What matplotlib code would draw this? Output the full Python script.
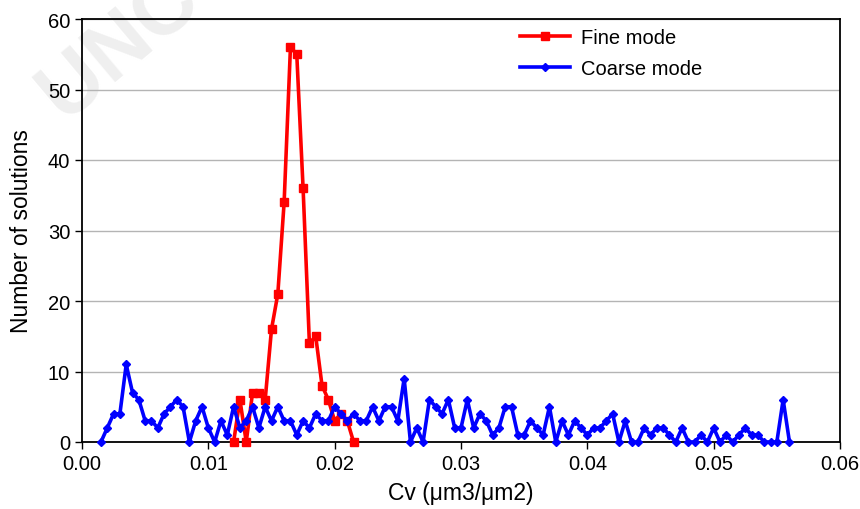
import numpy as np
import matplotlib
matplotlib.use("Agg")
import matplotlib.pyplot as plt

plt.rcParams['font.family'] = ['Liberation Sans', 'DejaVu Sans']

coarse_x = [0.0015, 0.0020, 0.0025, 0.0030, 0.0035, 0.0040, 0.0045, 0.0050, 0.0055, 0.0060,
            0.0065, 0.0070, 0.0075, 0.0080, 0.0085, 0.0090, 0.0095, 0.0100, 0.0105, 0.0110,
            0.0115, 0.0120, 0.0125, 0.0130, 0.0135, 0.0140, 0.0145, 0.0150, 0.0155, 0.0160,
            0.0165, 0.0170, 0.0175, 0.0180, 0.0185, 0.0190, 0.0195, 0.0200, 0.0205, 0.0210,
            0.0215, 0.0220, 0.0225, 0.0230, 0.0235, 0.0240, 0.0245, 0.0250, 0.0255, 0.0260,
            0.0265, 0.0270, 0.0275, 0.0280, 0.0285, 0.0290, 0.0295, 0.0300, 0.0305, 0.0310,
            0.0315, 0.0320, 0.0325, 0.0330, 0.0335, 0.0340, 0.0345, 0.0350, 0.0355, 0.0360,
            0.0365, 0.0370, 0.0375, 0.0380, 0.0385, 0.0390, 0.0395, 0.0400, 0.0405, 0.0410,
            0.0415, 0.0420, 0.0425, 0.0430, 0.0435, 0.0440, 0.0445, 0.0450, 0.0455, 0.0460,
            0.0465, 0.0470, 0.0475, 0.0480, 0.0485, 0.0490, 0.0495, 0.0500, 0.0505, 0.0510,
            0.0515, 0.0520, 0.0525, 0.0530, 0.0535, 0.0540, 0.0545, 0.0550, 0.0555, 0.0560]
coarse_y = [0, 2, 4, 4, 11, 7, 6, 3, 3, 2,
            4, 5, 6, 5, 0, 3, 5, 2, 0, 3,
            1, 5, 2, 3, 5, 2, 5, 3, 5, 3,
            3, 1, 3, 2, 4, 3, 3, 5, 4, 3,
            4, 3, 3, 5, 3, 5, 5, 3, 9, 0,
            2, 0, 6, 5, 4, 6, 2, 2, 6, 2,
            4, 3, 1, 2, 5, 5, 1, 1, 3, 2,
            1, 5, 0, 3, 1, 3, 2, 1, 2, 2,
            3, 4, 0, 3, 0, 0, 2, 1, 2, 2,
            1, 0, 2, 0, 0, 1, 0, 2, 0, 1,
            0, 1, 2, 1, 1, 0, 0, 0, 6, 0]

fine_x = [0.0120, 0.0125, 0.0130, 0.0135, 0.0140, 0.0145, 0.0150, 0.0155, 0.0160, 0.0165,
          0.0170, 0.0175, 0.0180, 0.0185, 0.0190, 0.0195, 0.0200, 0.0205, 0.0210, 0.0215]
fine_y = [0, 6, 0, 7, 7, 6, 16, 21, 34, 56,
          55, 36, 14, 15, 8, 6, 3, 4, 3, 0]

x_ticks = [0.0, 0.01, 0.02, 0.03, 0.04, 0.05, 0.06]
x_ticklabels = ['0.00', '0.01', '0.02', '0.03', '0.04', '0.05', '0.06']
y_ticks = [0, 10, 20, 30, 40, 50, 60]

fig = plt.figure(figsize=(8.6, 5.1), dpi=100)

# faint watermark (behind everything)
fig.text(0.03, 0.73, 'UNCORRECTED PROOF', fontsize=60, fontweight='bold',
         color='#efefef', rotation=40, ha='left', va='bottom', zorder=-5)

ax = fig.add_axes([82/860, 1-443/510, (840-82)/860, (443-20)/510])
ax.patch.set_alpha(0)

ax.plot(fine_x, fine_y, color='#ff0000', lw=2.6, marker='s', ms=5.5,
        label='Fine mode', zorder=3, clip_on=False)
ax.plot(coarse_x, coarse_y, color='#0000ff', lw=2.6, marker='D', ms=3.8,
        label='Coarse mode', zorder=4, clip_on=False)

ax.set_xlim(0, 0.06)
ax.set_ylim(0, 60)
ax.set_xticks(x_ticks)
ax.set_xticklabels(x_ticklabels)
ax.set_yticks(y_ticks)
ax.yaxis.grid(True, color='#b4b4b4', lw=1.0)
ax.set_axisbelow(True)
ax.tick_params(direction='out', length=5, width=1, labelsize=14.5, colors='black')
for s in ax.spines.values():
    s.set_linewidth(1.3)
    s.set_color('black')

ax.set_xlabel('Cv (μm3/μm2)', fontsize=16.5, labelpad=6)
ax.set_ylabel('Number of solutions', fontsize=16.5, labelpad=11)

leg = ax.legend(loc='upper left', bbox_to_anchor=(0.578, 0.978), frameon=False,
                fontsize=14.5, handlelength=2.5, labelspacing=0.6,
                borderpad=0, borderaxespad=0, handletextpad=0.5)

fig.savefig('out.png', dpi=100)
